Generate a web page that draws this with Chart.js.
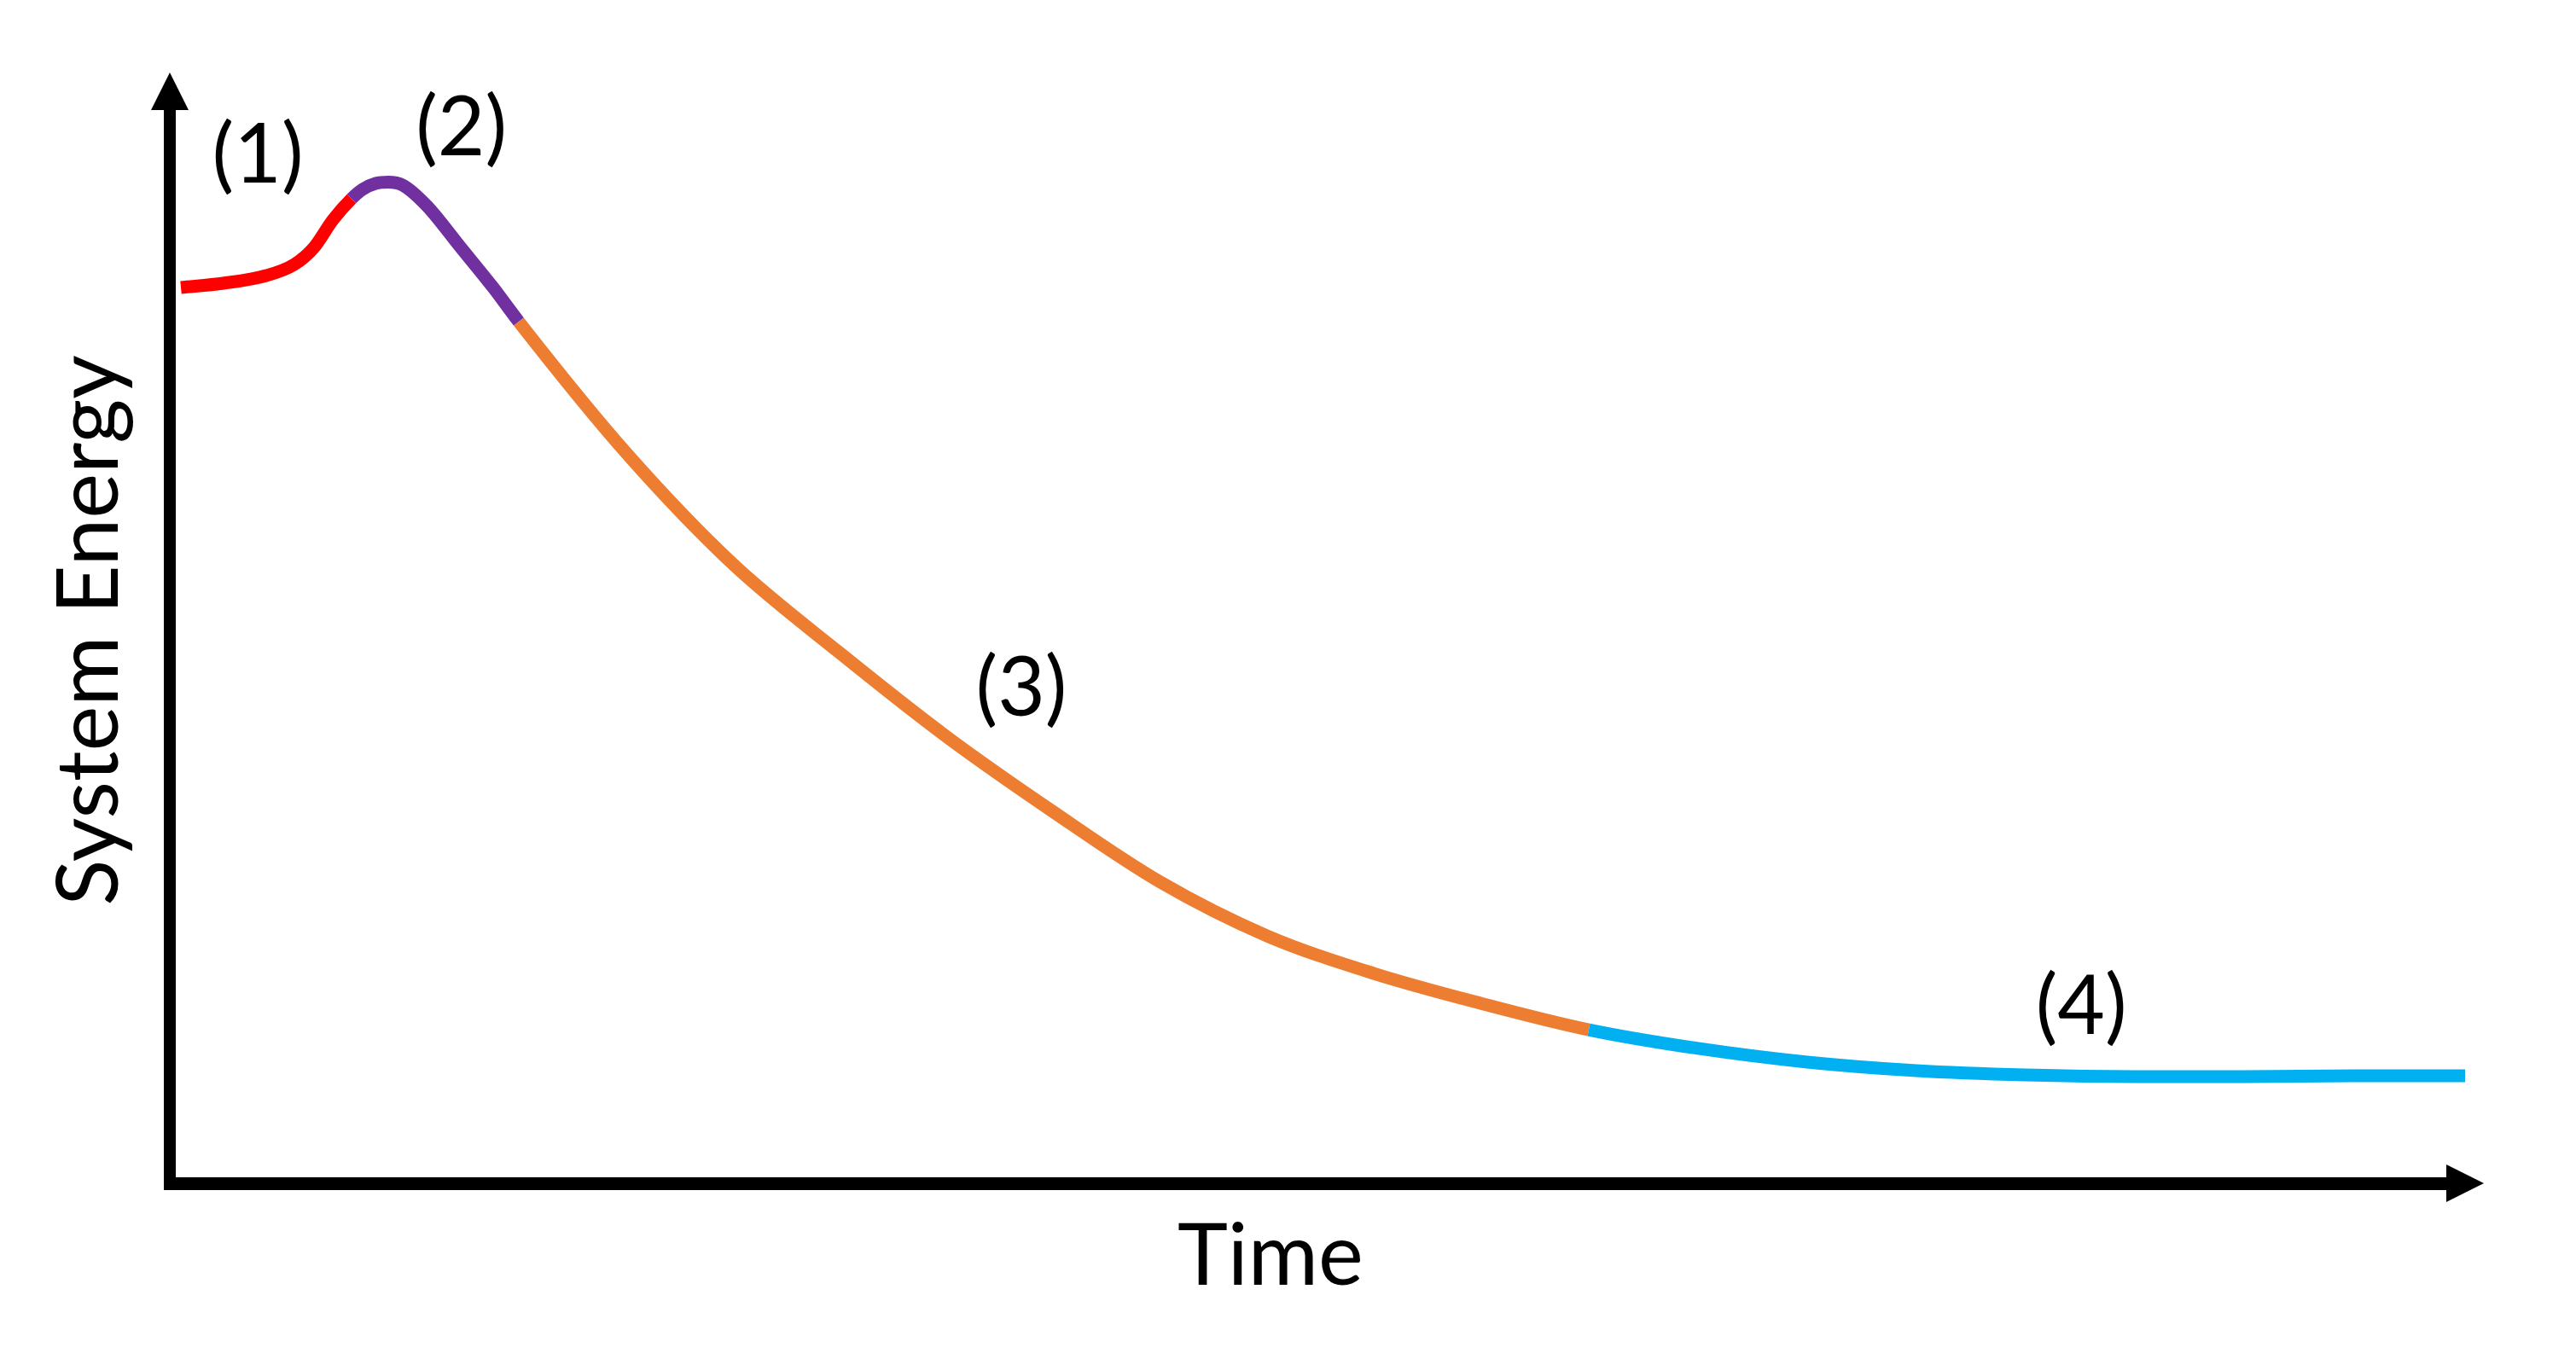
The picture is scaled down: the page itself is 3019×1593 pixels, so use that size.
<!DOCTYPE html>
<html>
<head>
<meta charset="utf-8">
<script src="https://cdn.jsdelivr.net/npm/chart.js@4.4.1/dist/chart.umd.min.js"></script>
<style>
  html, body { margin: 0; padding: 0; background: #fff; }
  #wrap { width: 3019px; height: 1593px; }
</style>
</head>
<body>
<div id="wrap"><canvas id="energyChart" width="3019" height="1593"></canvas></div>
<script>
// stage names / colours
const stageNames = ['(1)', '(2)', '(3)', '(4)'];
const stageColors = ['#FF0000', '#7030A0', '#ED7D31', '#00B0F0'];

// time (0-100) and system energy (0-100)
// each stage starts where the previous one ends
const stage1Time   = [0.48, 2.32, 4.17, 5.38, 6.23, 7.04, 7.85];
const stage1Energy = [80.65, 81.03, 81.72, 82.72, 84.25, 86.71, 88.63];

const stage2Time   = [7.85, 8.33, 8.89, 9.44, 10.07, 11.10, 12.54, 13.97, 15.08];
const stage2Energy = [88.63, 89.48, 90.02, 90.13, 89.86, 88.02, 84.33, 80.65, 77.57];

const stage3Time   = [15.08, 19.76, 24.37, 28.98, 33.59, 38.20, 42.81, 47.42, 52.03, 56.64, 61.32];
const stage3Energy = [77.57, 65.67, 55.68, 47.70, 40.17, 33.41, 27.11, 22.27, 18.89, 16.21, 13.82];

const stage4Time   = [61.32, 66.04, 70.76, 75.48, 80.20, 84.92, 89.64, 94.43, 99.19];
const stage4Energy = [13.82, 12.14, 10.91, 10.14, 9.75, 9.60, 9.60, 9.68, 9.68];

// where the stage labels sit, in data units
const labelTime   = [3.8, 12.6, 36.8, 82.6];
const labelEnergy = [92.5, 94.9, 44.5, 15.8];

const xTitle = 'Time';
const yTitle = 'System Energy';

// join the stages into one curve, remembering which stage each piece belongs to
const stageTimes = [stage1Time, stage2Time, stage3Time, stage4Time];
const stageEnergies = [stage1Energy, stage2Energy, stage3Energy, stage4Energy];
const points = [];
const pieceStage = [];
stageTimes.forEach((times, s) => {
    times.forEach((t, i) => {
        if (s > 0 && i === 0) return; // shared boundary point
        points.push({ x: t, y: stageEnergies[s][i] });
        pieceStage.push(i === times.length - 1 && s < 3 ? s + 1 : s);
    });
});

const axesPlugin = {
    id: 'axesArrows',
    afterDatasetsDraw(chart) {
        const ctx = chart.ctx;
        const xs = chart.scales.x;
        const ys = chart.scales.y;
        const x0 = xs.getPixelForValue(0);
        const y0 = ys.getPixelForValue(0);
        const xEnd = xs.getPixelForValue(100);
        const yEnd = ys.getPixelForValue(100);
        const head = 44, half = 22;

        ctx.save();
        ctx.fillStyle = '#000';
        // y axis
        ctx.fillRect(x0 - 7, yEnd + head, 14, y0 - yEnd - head + 7);
        ctx.beginPath();
        ctx.moveTo(x0, yEnd);
        ctx.lineTo(x0 - half, yEnd + head);
        ctx.lineTo(x0 + half, yEnd + head);
        ctx.closePath();
        ctx.fill();
        // x axis
        ctx.fillRect(x0 - 7, y0 - 7, xEnd - head - x0 + 7, 15);
        ctx.beginPath();
        ctx.moveTo(xEnd, y0);
        ctx.lineTo(xEnd - head, y0 - half);
        ctx.lineTo(xEnd - head, y0 + half);
        ctx.closePath();
        ctx.fill();

        // axis titles
        ctx.font = '100px Lato';
        ctx.textAlign = 'center';
        ctx.textBaseline = 'alphabetic';
        ctx.fillText(xTitle, 1489, 1506);
        ctx.save();
        ctx.translate(138, 739);
        ctx.rotate(-Math.PI / 2);
        ctx.fillText(yTitle, 0, 0);
        ctx.restore();

        // stage labels
        ctx.font = '96px Lato';
        ctx.textBaseline = 'middle';
        stageNames.forEach((name, i) => {
            ctx.fillText(name, xs.getPixelForValue(labelTime[i]), ys.getPixelForValue(labelEnergy[i]));
        });
        ctx.restore();
    }
};

new Chart(document.getElementById('energyChart'), {
    type: 'line',
    data: {
        datasets: [{
            label: 'System Energy',
            data: points,
            borderColor: stageColors[0],
            borderWidth: 15,
            borderCapStyle: 'butt',
            borderJoinStyle: 'round',
            pointRadius: 0,
            cubicInterpolationMode: 'monotone',
            fill: false,
            clip: false,
            segment: {
                borderColor: c => stageColors[pieceStage[c.p0DataIndex]]
            }
        }]
    },
    options: {
        responsive: false,
        animation: false,
        layout: { padding: { left: 199, top: 85, right: 108, bottom: 206 } },
        plugins: { legend: { display: false }, tooltip: { enabled: false } },
        scales: {
            x: { type: 'linear', min: 0, max: 100, display: false },
            y: { type: 'linear', min: 0, max: 100, display: false }
        }
    },
    plugins: [axesPlugin]
});
</script>
</body>
</html>
